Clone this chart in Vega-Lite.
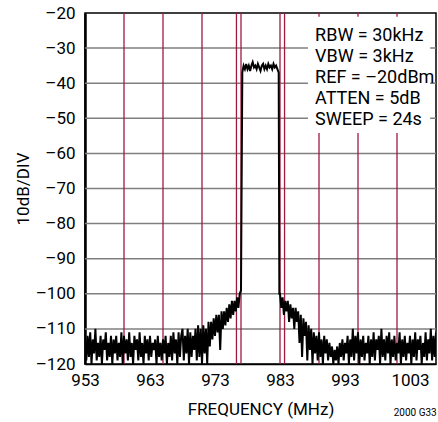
{
  "$schema": "https://vega.github.io/schema/vega-lite/v6.json",
  "width": 351,
  "height": 351,
  "autosize": "none",
  "padding": {"left": 85, "top": 13, "right": 2, "bottom": 58},
  "background": "white",
  "config": {
    "view": {"stroke": "black", "strokeWidth": 1.5},
    "font": "Roboto",
    "axis": {"labelFont": "Roboto", "titleFont": "Roboto", "labelColor": "black", "titleColor": "black", "titleFontWeight": "normal", "labelFontSize": 17, "titleFontSize": 17, "ticks": false, "grid": false, "labelOverlap": false, "labelBound": false, "labelFlush": false, "domainColor": "black"},
    "axisX": {"labelPadding": 8, "titlePadding": 13, "domainWidth": 1.5},
    "axisY": {"labelPadding": 10, "titlePadding": 3, "domainWidth": 2.5}
  },
  "datasets": {
    "trace": [
      {"f":953.0,"p":-113},{"f":953.2,"p":-119},{"f":953.4,"p":-112},{"f":953.6,"p":-118},{"f":953.8,"p":-111},{"f":954.0,"p":-120},{"f":954.2,"p":-113},{"f":954.4,"p":-117},{"f":954.6,"p":-110},{"f":954.8,"p":-119},
      {"f":955.0,"p":-114},{"f":955.2,"p":-118},{"f":955.4,"p":-112},{"f":955.6,"p":-120},{"f":955.8,"p":-113},{"f":956.0,"p":-116},{"f":956.2,"p":-111},{"f":956.4,"p":-119},{"f":956.6,"p":-114},{"f":956.8,"p":-118},
      {"f":957.0,"p":-112},{"f":957.2,"p":-120},{"f":957.4,"p":-113},{"f":957.6,"p":-117},{"f":957.8,"p":-112},{"f":958.0,"p":-119},{"f":958.2,"p":-114},{"f":958.4,"p":-118},{"f":958.6,"p":-111},{"f":958.8,"p":-120},
      {"f":959.0,"p":-112},{"f":959.2,"p":-117},{"f":959.4,"p":-113},{"f":959.6,"p":-119},{"f":959.8,"p":-111},{"f":960.0,"p":-118},{"f":960.2,"p":-114},{"f":960.4,"p":-120},{"f":960.6,"p":-112},{"f":960.8,"p":-116},
      {"f":961.0,"p":-113},{"f":961.2,"p":-119},{"f":961.4,"p":-111},{"f":961.6,"p":-118},{"f":961.8,"p":-114},{"f":962.0,"p":-120},{"f":962.2,"p":-112},{"f":962.4,"p":-117},{"f":962.6,"p":-113},{"f":962.8,"p":-119},
      {"f":963.0,"p":-112},{"f":963.2,"p":-118},{"f":963.4,"p":-114},{"f":963.6,"p":-116},{"f":963.8,"p":-113},{"f":964.0,"p":-120},{"f":964.2,"p":-112},{"f":964.4,"p":-118},{"f":964.6,"p":-114},{"f":964.8,"p":-119},
      {"f":965.0,"p":-113},{"f":965.2,"p":-117},{"f":965.4,"p":-112},{"f":965.6,"p":-120},{"f":965.8,"p":-114},{"f":966.0,"p":-118},{"f":966.2,"p":-112},{"f":966.4,"p":-119},{"f":966.6,"p":-111},{"f":966.8,"p":-117},
      {"f":967.0,"p":-113},{"f":967.2,"p":-120},{"f":967.4,"p":-111},{"f":967.6,"p":-118},{"f":967.8,"p":-112},{"f":968.0,"p":-110},{"f":968.2,"p":-119},{"f":968.4,"p":-112},{"f":968.6,"p":-117},{"f":968.8,"p":-110},
      {"f":969.0,"p":-120},{"f":969.2,"p":-111},{"f":969.4,"p":-118},{"f":969.6,"p":-112},{"f":969.8,"p":-116},{"f":970.0,"p":-110},
      {"f":970.2,"p":-119},{"f":970.4,"p":-109},{"f":970.6,"p":-118},{"f":970.8,"p":-110},{"f":971.0,"p":-120},{"f":971.2,"p":-109},{"f":971.4,"p":-117},{"f":971.6,"p":-110},{"f":971.8,"p":-120},{"f":972.0,"p":-108},
      {"f":972.2,"p":-115},{"f":972.4,"p":-108},{"f":972.6,"p":-113},{"f":972.8,"p":-107},{"f":973.0,"p":-112},{"f":973.2,"p":-106},{"f":973.4,"p":-111},{"f":973.6,"p":-106},{"f":973.8,"p":-116},{"f":974.0,"p":-105},
      {"f":974.2,"p":-110},{"f":974.4,"p":-105},{"f":974.6,"p":-109},{"f":974.8,"p":-104},{"f":975.0,"p":-108},{"f":975.2,"p":-103},{"f":975.4,"p":-107},{"f":975.6,"p":-102},{"f":975.8,"p":-106},{"f":976.0,"p":-102},
      {"f":976.2,"p":-105},{"f":976.4,"p":-101},{"f":976.6,"p":-104},{"f":976.8,"p":-100},{"f":977.0,"p":-99},
      {"f":977.2,"p":-37},{"f":977.4,"p":-35},{"f":977.6,"p":-36},{"f":977.8,"p":-34.5},{"f":978.0,"p":-36},{"f":978.2,"p":-35},{"f":978.4,"p":-36.5},{"f":978.6,"p":-35},{"f":978.8,"p":-34},{"f":979.0,"p":-35.5},
      {"f":979.2,"p":-35},{"f":979.4,"p":-36},{"f":979.6,"p":-34.5},{"f":979.8,"p":-35.5},{"f":980.0,"p":-36.5},{"f":980.2,"p":-35},{"f":980.4,"p":-34.5},{"f":980.6,"p":-36},{"f":980.8,"p":-35},{"f":981.0,"p":-36},
      {"f":981.2,"p":-34.5},{"f":981.4,"p":-35.5},{"f":981.6,"p":-35},{"f":981.8,"p":-36},{"f":982.0,"p":-34.5},{"f":982.2,"p":-35.5},{"f":982.4,"p":-35},{"f":982.6,"p":-36},{"f":982.8,"p":-37},
      {"f":982.9,"p":-100},{"f":983.0,"p":-100},{"f":983.2,"p":-104},{"f":983.4,"p":-101},{"f":983.6,"p":-106},{"f":983.8,"p":-102},{"f":984.0,"p":-105},{"f":984.2,"p":-102},{"f":984.4,"p":-108},{"f":984.6,"p":-103},
      {"f":984.8,"p":-107},{"f":985.0,"p":-104},{"f":985.2,"p":-110},{"f":985.4,"p":-104},{"f":985.6,"p":-108},{"f":985.8,"p":-105},{"f":986.0,"p":-114},{"f":986.2,"p":-106},{"f":986.4,"p":-118},{"f":986.6,"p":-107},
      {"f":986.8,"p":-112},{"f":987.0,"p":-108},{"f":987.2,"p":-119},{"f":987.4,"p":-109},{"f":987.6,"p":-116},{"f":987.8,"p":-110},{"f":988.0,"p":-120},
      {"f":988.2,"p":-111},{"f":988.4,"p":-117},{"f":988.6,"p":-112},{"f":988.8,"p":-119},{"f":989.0,"p":-111},{"f":989.2,"p":-118},{"f":989.4,"p":-113},{"f":989.6,"p":-120},{"f":989.8,"p":-112},{"f":990.0,"p":-117},
      {"f":990.2,"p":-113},{"f":990.4,"p":-119},{"f":990.6,"p":-114},{"f":990.8,"p":-118},{"f":991.0,"p":-115},{"f":991.2,"p":-120},{"f":991.4,"p":-116},{"f":991.6,"p":-119},{"f":991.8,"p":-115},{"f":992.0,"p":-120},
      {"f":992.2,"p":-114},{"f":992.4,"p":-118},{"f":992.6,"p":-113},{"f":992.8,"p":-119},{"f":993.0,"p":-114},{"f":993.2,"p":-117},{"f":993.4,"p":-112},{"f":993.6,"p":-120},{"f":993.8,"p":-113},{"f":994.0,"p":-118},
      {"f":994.2,"p":-110},{"f":994.4,"p":-119},{"f":994.6,"p":-112},{"f":994.8,"p":-117},{"f":995.0,"p":-111},{"f":995.2,"p":-120},{"f":995.4,"p":-113},{"f":995.6,"p":-118},{"f":995.8,"p":-112},{"f":996.0,"p":-119},
      {"f":996.2,"p":-114},{"f":996.4,"p":-117},{"f":996.6,"p":-112},{"f":996.8,"p":-120},{"f":997.0,"p":-113},{"f":997.2,"p":-118},{"f":997.4,"p":-111},{"f":997.6,"p":-119},{"f":997.8,"p":-113},{"f":998.0,"p":-116},
      {"f":998.2,"p":-112},{"f":998.4,"p":-120},{"f":998.6,"p":-110},{"f":998.8,"p":-118},{"f":999.0,"p":-113},{"f":999.2,"p":-119},{"f":999.4,"p":-112},{"f":999.6,"p":-117},{"f":999.8,"p":-111},{"f":1000.0,"p":-120},
      {"f":1000.2,"p":-113},{"f":1000.4,"p":-118},{"f":1000.6,"p":-112},{"f":1000.8,"p":-119},{"f":1001.0,"p":-114},{"f":1001.2,"p":-117},{"f":1001.4,"p":-111},{"f":1001.6,"p":-120},{"f":1001.8,"p":-113},{"f":1002.0,"p":-118},
      {"f":1002.2,"p":-112},{"f":1002.4,"p":-119},{"f":1002.6,"p":-114},{"f":1002.8,"p":-117},{"f":1003.0,"p":-112},{"f":1003.2,"p":-120},{"f":1003.4,"p":-113},{"f":1003.6,"p":-118},{"f":1003.8,"p":-111},{"f":1004.0,"p":-119},
      {"f":1004.2,"p":-113},{"f":1004.4,"p":-116},{"f":1004.6,"p":-112},{"f":1004.8,"p":-120},{"f":1005.0,"p":-114},{"f":1005.2,"p":-118},{"f":1005.4,"p":-111},{"f":1005.6,"p":-119},{"f":1005.8,"p":-113},{"f":1006.0,"p":-117},
      {"f":1006.2,"p":-110},{"f":1006.4,"p":-119},{"f":1006.6,"p":-112},{"f":1006.8,"p":-118},{"f":1007.0,"p":-111}
    ],
    "hgrid": [{"h":-30},{"h":-40},{"h":-50},{"h":-60},{"h":-70},{"h":-80},{"h":-90},{"h":-100},{"h":-110}],
    "vgrid": [{"v":959},{"v":965},{"v":971},{"v":976.3},{"v":977},{"v":983},{"v":983.7},{"v":989},{"v":995},{"v":1001}]
  },
  "layer": [
    {
      "data": {"name": "hgrid"},
      "mark": {"type": "rule", "color": "#7f7f7f", "strokeWidth": 1.5},
      "encoding": {
        "y": {"field": "h", "type": "quantitative", "scale": {"domain": [-120, -20], "nice": false, "zero": false},
              "axis": {"values": [-120,-110,-100,-90,-80,-70,-60,-50,-40,-30,-20], "labelExpr": "'–' + abs(datum.value)", "title": "10dB/DIV"}}
      }
    },
    {
      "data": {"name": "vgrid"},
      "mark": {"type": "rule", "color": "#9e1a40", "strokeWidth": 1.3},
      "encoding": {
        "x": {"field": "v", "type": "quantitative", "scale": {"domain": [953, 1007], "nice": false, "zero": false},
              "axis": {"values": [953,963,973,983,993,1003], "format": "d", "title": "FREQUENCY (MHz)"}}
      }
    },
    {
      "data": {"values": [{}]},
      "mark": {"type": "rect", "color": "white"},
      "encoding": {
        "x": {"datum": 987.3, "type": "quantitative", "axis": {"values": [953,963,973,983,993,1003], "format": "d", "title": "FREQUENCY (MHz)"}},
        "x2": {"datum": 1006.1},
        "y": {"datum": -21.1, "type": "quantitative", "axis": {"values": [-120,-110,-100,-90,-80,-70,-60,-50,-40,-30,-20], "labelExpr": "'–' + abs(datum.value)", "title": "10dB/DIV"}},
        "y2": {"datum": -54.2}
      }
    },
    {
      "data": {"values": [{}]},
      "mark": {"type": "text", "align": "left", "baseline": "alphabetic", "fontSize": 18, "lineHeight": 21, "font": "Roboto", "color": "black",
               "text": ["RBW = 30kHz", "VBW = 3kHz", "REF = –20dBm", "ATTEN = 5dB", "SWEEP = 24s"]},
      "encoding": {
        "x": {"datum": 988.4, "type": "quantitative", "axis": {"values": [953,963,973,983,993,1003], "format": "d", "title": "FREQUENCY (MHz)"}},
        "y": {"datum": -28, "type": "quantitative", "axis": {"values": [-120,-110,-100,-90,-80,-70,-60,-50,-40,-30,-20], "labelExpr": "'–' + abs(datum.value)", "title": "10dB/DIV"}}
      }
    },
    {
      "data": {"name": "trace"},
      "mark": {"type": "line", "color": "black", "strokeWidth": 2, "clip": true},
      "encoding": {
        "x": {"field": "f", "type": "quantitative", "axis": {"values": [953,963,973,983,993,1003], "format": "d", "title": "FREQUENCY (MHz)"}},
        "y": {"field": "p", "type": "quantitative", "axis": {"values": [-120,-110,-100,-90,-80,-70,-60,-50,-40,-30,-20], "labelExpr": "'–' + abs(datum.value)", "title": "10dB/DIV"}}
      }
    },
    {
      "data": {"values": [{}]},
      "mark": {"type": "text", "align": "center", "baseline": "middle", "fontSize": 10, "font": "Roboto", "color": "black", "text": "2000 G33"},
      "encoding": {
        "x": {"datum": 1003.8, "type": "quantitative", "axis": {"values": [953,963,973,983,993,1003], "format": "d", "title": "FREQUENCY (MHz)"}},
        "y": {"datum": -134, "type": "quantitative", "axis": {"values": [-120,-110,-100,-90,-80,-70,-60,-50,-40,-30,-20], "labelExpr": "'–' + abs(datum.value)", "title": "10dB/DIV"}}
      }
    }
  ]
}
